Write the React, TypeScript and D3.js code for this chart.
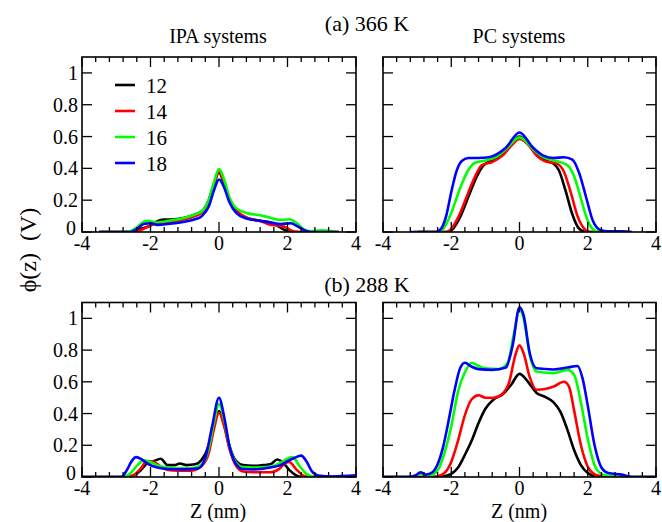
import React from "react";
import * as d3 from "d3";

type Pt = [number, number];

// ---- Data (z in nm, phi in V) ----
const seriesNames = ["12", "14", "16", "18"];
const seriesColors = ["#000000", "#ff0000", "#00ff00", "#0000ff"];

const xTicks = [-4, -2, 0, 2, 4];
const yTicks = [0, 0.2, 0.4, 0.6, 0.8, 1];
const yTickLabels = ["0", "0.2", "0.4", "0.6", "0.8", "1"];

const ipa366_12: Pt[] = [[-3.5,0],[-2.6,0],[-2.3,0.02],[-2.0,0.04],[-1.8,0.068],[-1.6,0.078],[-1.3,0.08],[-1.0,0.09],[-0.7,0.11],[-0.5,0.13],[-0.3,0.2],[-0.15,0.3],[0,0.375],[0.15,0.3],[0.3,0.2],[0.5,0.13],[0.8,0.09],[1.2,0.07],[1.5,0.06],[1.7,0.04],[1.9,0.015],[2.1,0],[3,0]];
const ipa366_14: Pt[] = [[-3.5,0],[-2.5,0],[-2.2,0.02],[-1.9,0.05],[-1.6,0.055],[-1.3,0.065],[-1.0,0.08],[-0.7,0.1],[-0.5,0.12],[-0.3,0.18],[-0.15,0.29],[0,0.38],[0.15,0.31],[0.3,0.21],[0.5,0.14],[0.8,0.09],[1.2,0.07],[1.5,0.045],[1.75,0.04],[1.95,0.03],[2.1,0.01],[2.3,0],[3,0]];
const ipa366_16: Pt[] = [[-3.5,0],[-3.0,0],[-2.6,0.005],[-2.4,0.03],[-2.2,0.065],[-2.05,0.07],[-1.85,0.06],[-1.5,0.07],[-1.0,0.09],[-0.7,0.11],[-0.5,0.13],[-0.3,0.2],[-0.15,0.31],[0,0.395],[0.15,0.33],[0.3,0.22],[0.5,0.15],[0.8,0.12],[1.2,0.105],[1.5,0.09],[1.8,0.075],[2.05,0.08],[2.25,0.06],[2.45,0.02],[2.7,0.005],[3.0,0.01],[3.5,0]];
const ipa366_18: Pt[] = [[-3.5,0],[-2.6,0],[-2.4,0.02],[-2.2,0.05],[-2.0,0.055],[-1.8,0.045],[-1.5,0.05],[-1.0,0.065],[-0.7,0.08],[-0.5,0.1],[-0.3,0.16],[-0.15,0.26],[0,0.33],[0.15,0.28],[0.3,0.19],[0.5,0.12],[0.8,0.085],[1.2,0.07],[1.5,0.06],[1.8,0.05],[2.1,0.055],[2.3,0.035],[2.5,0.01],[2.7,0],[3.5,0]];

const pc366_12: Pt[] = [[-3,0],[-2.1,0],[-1.95,0.02],[-1.75,0.09],[-1.5,0.22],[-1.25,0.35],[-1.05,0.42],[-0.8,0.45],[-0.5,0.49],[-0.25,0.55],[0,0.6],[0.25,0.56],[0.5,0.49],[0.75,0.45],[1.0,0.43],[1.15,0.39],[1.35,0.26],[1.55,0.11],[1.75,0.02],[1.95,0],[3,0]];
const pc366_14: Pt[] = [[-3,0],[-2.15,0],[-2.0,0.02],[-1.8,0.09],[-1.55,0.22],[-1.3,0.35],[-1.1,0.42],[-0.8,0.44],[-0.5,0.48],[-0.25,0.54],[0,0.585],[0.25,0.55],[0.5,0.48],[0.75,0.445],[1.1,0.43],[1.3,0.38],[1.5,0.25],[1.7,0.1],[1.9,0.02],[2.05,0],[3,0]];
const pc366_16: Pt[] = [[-3.1,0],[-2.35,0],[-2.2,0.03],[-2.0,0.12],[-1.75,0.27],[-1.5,0.39],[-1.3,0.435],[-1.0,0.45],[-0.7,0.47],[-0.4,0.52],[0,0.595],[0.4,0.52],[0.7,0.47],[1.0,0.45],[1.4,0.42],[1.6,0.35],[1.8,0.21],[2.0,0.07],[2.2,0.01],[2.35,0],[3.2,0]];
const pc366_18: Pt[] = [[-3.2,0],[-2.45,0],[-2.3,0.02],[-2.15,0.1],[-2.0,0.25],[-1.85,0.38],[-1.7,0.445],[-1.5,0.465],[-1.2,0.465],[-0.9,0.47],[-0.4,0.53],[0,0.625],[0.4,0.53],[0.7,0.48],[1.0,0.465],[1.3,0.47],[1.55,0.455],[1.75,0.37],[1.95,0.22],[2.15,0.07],[2.35,0.015],[2.6,0.005],[3.0,0.005],[3.3,0]];

const ipa288_12: Pt[] = [[-4,0],[-2.7,0],[-2.5,0.01],[-2.3,0.04],[-2.1,0.085],[-1.9,0.1],[-1.7,0.115],[-1.5,0.075],[-1.3,0.075],[-1.15,0.085],[-0.95,0.075],[-0.7,0.08],[-0.5,0.11],[-0.3,0.2],[-0.15,0.33],[0,0.415],[0.15,0.33],[0.3,0.2],[0.5,0.1],[0.7,0.075],[1.0,0.07],[1.3,0.075],[1.5,0.08],[1.7,0.11],[1.85,0.095],[2.05,0.045],[2.25,0.01],[2.4,0],[4,0]];
const ipa288_14: Pt[] = [[-4,0],[-2.7,0],[-2.5,0.01],[-2.3,0.05],[-2.1,0.1],[-1.9,0.095],[-1.7,0.065],[-1.5,0.045],[-1.2,0.04],[-0.8,0.04],[-0.5,0.07],[-0.3,0.15],[-0.15,0.3],[0,0.405],[0.15,0.32],[0.3,0.18],[0.5,0.07],[0.7,0.035],[1.0,0.03],[1.5,0.03],[1.75,0.05],[1.95,0.09],[2.05,0.095],[2.25,0.05],[2.45,0.01],[2.6,0],[4,0]];
const ipa288_16: Pt[] = [[-4,0],[-2.8,0],[-2.6,0.02],[-2.4,0.07],[-2.2,0.105],[-2.0,0.095],[-1.8,0.075],[-1.5,0.06],[-1.2,0.055],[-0.8,0.055],[-0.5,0.08],[-0.3,0.18],[-0.15,0.34],[0,0.46],[0.15,0.36],[0.3,0.2],[0.5,0.09],[0.7,0.062],[1.0,0.06],[1.5,0.065],[1.8,0.09],[2.0,0.115],[2.15,0.125],[2.35,0.07],[2.55,0.02],[2.8,0],[4,0]];
const ipa288_18: Pt[] = [[-4,0],[-2.85,0],[-2.7,0.04],[-2.55,0.1],[-2.42,0.125],[-2.25,0.11],[-2.05,0.08],[-1.8,0.06],[-1.5,0.05],[-1.0,0.048],[-0.6,0.055],[-0.4,0.12],[-0.2,0.32],[0,0.5],[0.15,0.38],[0.3,0.2],[0.5,0.08],[0.7,0.05],[1.0,0.048],[1.5,0.06],[1.8,0.075],[2.0,0.1],[2.2,0.12],[2.4,0.135],[2.55,0.1],[2.7,0.04],[2.9,0.01],[3.3,0.003],[4,0.01]];

const pc288_12: Pt[] = [[-4,0],[-2.5,0],[-2.2,0.005],[-2.0,0.02],[-1.8,0.06],[-1.6,0.14],[-1.4,0.23],[-1.2,0.34],[-1.0,0.43],[-0.75,0.49],[-0.5,0.52],[-0.25,0.58],[0,0.65],[0.25,0.6],[0.5,0.53],[0.75,0.505],[1.0,0.47],[1.2,0.41],[1.4,0.3],[1.6,0.17],[1.8,0.075],[2.0,0.025],[2.2,0.005],[2.4,0],[4,0]];
const pc288_14: Pt[] = [[-4,0],[-2.6,0],[-2.4,0.005],[-2.2,0.025],[-2.0,0.095],[-1.8,0.23],[-1.6,0.39],[-1.4,0.49],[-1.2,0.515],[-1.0,0.5],[-0.75,0.5],[-0.5,0.525],[-0.3,0.6],[-0.12,0.77],[0,0.83],[0.12,0.78],[0.3,0.63],[0.5,0.55],[0.75,0.555],[1.0,0.57],[1.3,0.6],[1.45,0.57],[1.6,0.42],[1.8,0.2],[2.0,0.065],[2.2,0.017],[2.4,0.005],[2.6,0],[4,0]];
const pc288_16: Pt[] = [[-4,0],[-3.2,0],[-2.9,0.02],[-2.7,0.005],[-2.5,0.02],[-2.35,0.06],[-2.2,0.15],[-2.0,0.32],[-1.8,0.54],[-1.6,0.66],[-1.4,0.72],[-1.2,0.7],[-1.0,0.685],[-0.6,0.68],[-0.35,0.72],[-0.15,0.92],[0,1.06],[0.12,1.0],[0.3,0.77],[0.5,0.665],[1.0,0.655],[1.4,0.675],[1.6,0.645],[1.8,0.47],[2.0,0.24],[2.2,0.075],[2.4,0.02],[2.7,0.005],[3.0,0],[4,0]];
const pc288_18: Pt[] = [[-4,0],[-3.3,0],[-3.05,0.01],[-2.9,0.03],[-2.75,0.015],[-2.55,0.03],[-2.4,0.08],[-2.25,0.18],[-2.1,0.33],[-1.9,0.55],[-1.75,0.68],[-1.6,0.72],[-1.4,0.695],[-1.2,0.68],[-0.8,0.675],[-0.4,0.69],[-0.2,0.83],[0,1.07],[0.12,1.02],[0.3,0.78],[0.5,0.685],[1.0,0.678],[1.4,0.69],[1.7,0.7],[1.85,0.62],[2.0,0.45],[2.2,0.2],[2.4,0.06],[2.6,0.025],[3.0,0.015],[3.3,0],[4,0]];

const FONT = '"Liberation Serif", "Times New Roman", "Liberation Sans", Arial, sans-serif';
const txt: React.CSSProperties = { fontFamily: FONT };

interface PanelSpec {
  id: string;
  x0: number; x1: number; y0: number; y1: number;
  series: Pt[][];
  yLabels: boolean;
  legend: boolean;
}

const panels: PanelSpec[] = [
  { id: "a1", x0: 82, x1: 356, y0: 57, y1: 232, series: [ipa366_12, ipa366_14, ipa366_16, ipa366_18], yLabels: true, legend: true },
  { id: "a2", x0: 383, x1: 656, y0: 57, y1: 232, series: [pc366_12, pc366_14, pc366_16, pc366_18], yLabels: false, legend: false },
  { id: "b1", x0: 82, x1: 356, y0: 302.5, y1: 477, series: [ipa288_12, ipa288_14, ipa288_16, ipa288_18], yLabels: true, legend: false },
  { id: "b2", x0: 383, x1: 656, y0: 302.5, y1: 477, series: [pc288_12, pc288_14, pc288_16, pc288_18], yLabels: false, legend: false },
];

function Panel({ p }: { p: PanelSpec }) {
  const x = d3.scaleLinear().domain([-4, 4]).range([p.x0, p.x1]);
  const y = d3.scaleLinear().domain([0, 1.1]).range([p.y1, p.y0]);
  const line = d3
    .line<Pt>()
    .x((d) => x(d[0]))
    .y((d) => y(d[1]))
    .curve(d3.curveMonotoneX);
  const minor = d3.range(-4, 4.001, 0.4).filter((v) => Math.abs(v / 2 - Math.round(v / 2)) > 0.01);
  return (
    <g>
      <defs>
        <clipPath id={"clip-" + p.id}>
          <rect x={p.x0} y={p.y0} width={p.x1 - p.x0} height={p.y1 - p.y0} />
        </clipPath>
      </defs>
      <g clipPath={`url(#clip-${p.id})`}>
        {p.series.map((s, i) => (
          <path key={i} d={line(s) || ""} fill="none" stroke={seriesColors[i]} strokeWidth={2.6} strokeLinejoin="round" />
        ))}
      </g>
      <g stroke="#000" strokeWidth={1.3}>
        {xTicks.map((t) => (
          <g key={"xt" + t}>
            <line x1={x(t)} x2={x(t)} y1={p.y1} y2={p.y1 - 10} />
            <line x1={x(t)} x2={x(t)} y1={p.y0} y2={p.y0 + 10} />
          </g>
        ))}
        {minor.map((t) => (
          <g key={"xm" + t}>
            <line x1={x(t)} x2={x(t)} y1={p.y1} y2={p.y1 - 5} />
            <line x1={x(t)} x2={x(t)} y1={p.y0} y2={p.y0 + 5} />
          </g>
        ))}
        {yTicks.map((t) => (
          <g key={"yt" + t}>
            <line x1={p.x0} x2={p.x0 + 10} y1={y(t)} y2={y(t)} />
            <line x1={p.x1} x2={p.x1 - 10} y1={y(t)} y2={y(t)} />
          </g>
        ))}
      </g>
      <rect x={p.x0} y={p.y0} width={p.x1 - p.x0} height={p.y1 - p.y0} fill="none" stroke="#000" strokeWidth={1.6} />
      <g fontSize={20} fill="#000">
        {xTicks.map((t) => (
          <text key={"xl" + t} x={x(t)} y={p.y1 + 18} textAnchor="middle" style={txt}>
            {String(t)}
          </text>
        ))}
        {p.yLabels &&
          yTicks.map((t, i) => (
            <text key={"yl" + t} x={p.x0 - (t === 0 ? 6 : 4)} y={y(t) + (t === 0 ? 3 : 7)} textAnchor="end" style={txt}>
              {yTickLabels[i]}
            </text>
          ))}
      </g>
      {p.legend && (
        <g fontSize={21}>
          {seriesNames.map((n, i) => (
            <g key={n}>
              <line x1={p.x0 + 33} x2={p.x0 + 53} y1={85 + i * 26} y2={85 + i * 26} stroke={seriesColors[i]} strokeWidth={2.6} />
              <text x={p.x0 + 64} y={85 + i * 26 + 8} style={txt}>
                {n}
              </text>
            </g>
          ))}
        </g>
      )}
    </g>
  );
}

export default function App() {
  return (
    <svg
      width={662}
      height={522}
      viewBox="0 0 662 522"
      style={{ position: "absolute", left: 0, top: 0, background: "#fff" }}
    >
      <rect x={0} y={0} width={662} height={522} fill="#fff" />
      {panels.map((p) => (
        <Panel key={p.id} p={p} />
      ))}
      <g fill="#000" textAnchor="middle">
        <text x={367} y={31} fontSize={22} style={txt}>(a) 366 K</text>
        <text x={218} y={43} fontSize={20} style={txt}>IPA systems</text>
        <text x={519} y={43} fontSize={20} style={txt}>PC systems</text>
        <text x={367} y={292} fontSize={22} style={txt}>(b) 288 K</text>
        <text x={218} y={518} fontSize={20} style={txt}>Z (nm)</text>
        <text x={519} y={518} fontSize={20} style={txt}>Z (nm)</text>
        <text transform="translate(36,250) rotate(-90)" fontSize={24} style={{ ...txt, whiteSpace: "pre" }}>
          {"ϕ(z)  (V)"}
        </text>
      </g>
    </svg>
  );
}
